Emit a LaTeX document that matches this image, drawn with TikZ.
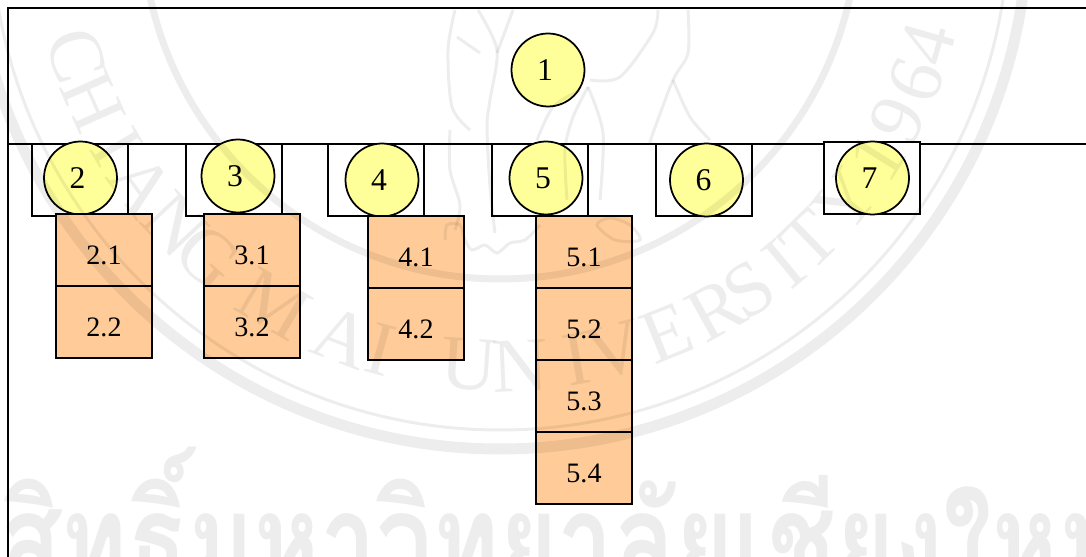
\documentclass[tikz,border=0pt]{standalone}
\usepackage{graphicx}
\usepackage{fontspec}
\setmainfont{Liberation Serif}
\newfontfamily\thaifont[Script=Thai]{Loma}
\definecolor{lightyellow}{RGB}{255, 255, 153}
\definecolor{lightorange}{RGB}{255, 204, 153}
\tikzset{
    bar/.style={black, line width=1pt},
    frontbox/.style={draw=black, line width=1pt, fill=white, minimum width=1.92cm, minimum height=1.44cm, inner sep=0pt},
    num/.style={circle, draw=black, line width=1pt, fill=lightyellow, minimum size=1.46cm, inner sep=0pt, font=\fontsize{18}{18}\selectfont, execute at end node={\hspace*{.12cm}}},
    sub/.style={draw=black, line width=1pt, fill=lightorange, minimum width=1.92cm, minimum height=1.44cm, inner sep=0pt, text height=.6cm, font=\fontsize{16}{16}\selectfont},
    ring/.style={draw=black, draw opacity=.07},
    sealtext/.style={text=black, text opacity=.07, inner sep=0pt, font=\fontsize{44}{44}\selectfont},
    thaitext/.style={text=black, text opacity=.07, inner sep=0pt, anchor=base west, font=\thaifont\bfseries\fontsize{76}{76}\selectfont}
}

\begin{document}
\begin{tikzpicture}[x=.02cm, y=-.02cm]
    \useasboundingbox (0,0) rectangle (1086,557);

    % Frame and header line
    \draw[bar] (8,557) -- (8,8) -- (1086,8);
    \draw[bar] (8,144) -- (1086,144);

    % Square behind each circle
    \node[frontbox] (box2) at (80,180) {};
    \node[frontbox] (box3) at (234,180) {};
    \node[frontbox] (box4) at (376,180) {};
    \node[frontbox] (box5) at (540,180) {};
    \node[frontbox] (box6) at (704,180) {};
    \node[frontbox] (box7) at (872,178) {};

    % Circles
    \node[num] (n1) at (548,70) {1};
    \node[num] (n2) at (80.5,178) {2};
    \node[num] (n3) at (238,176) {3};
    \node[num] (n4) at (382,180) {4};
    \node[num] (n5) at (546,178) {5};
    \node[num] (n6) at (706.5,180) {6};
    \node[num] (n7) at (872.5,178) {7};

    % Sub items
    \node[sub] (n21) at (104,250) {2.1};
    \node[sub] (n22) at (104,322) {2.2};
    \node[sub] (n31) at (252,250) {3.1};
    \node[sub] (n32) at (252,322) {3.2};
    \node[sub] (n41) at (416,252) {4.1};
    \node[sub] (n42) at (416,324) {4.2};
    \node[sub] (n51) at (584,252) {5.1};
    \node[sub] (n52) at (584,324) {5.2};
    \node[sub] (n53) at (584,396) {5.3};
    \node[sub] (n54) at (584,468) {5.4};

    % Seal rings
    \draw[ring, line width=11*.02cm] (500,-79) circle[radius=528];
    \draw[ring, line width=3*.02cm] (500,-79) circle[radius=509];
    \draw[ring, line width=7*.02cm] (500,-79) circle[radius=358];

    % Seal letters
    \begin{scope}[shift={(500,-79)}]
        \foreach \ch/\ang [count=\i] in {C/162.4, H/156, I/149.5, A/143.7, N/137, G/131, M/120.5, A/110.7, I/105.5, U/94, N/87.4, I/80, V/75, E/68, R/61, S/56, I/50.3, T/45.8, Y/39, 1/32, 9/26.6, 6/21, 4/16}
            \node[sealtext, rotate=90-\ang] (seal\i) at (\ang:445) {\ch};
    \end{scope}

    % Elephant in the seal
    \begin{scope}[ring, line width=3*.02cm]
        \draw plot[smooth] coordinates {(455,10) (448,50) (452,107) (470,130)};
        \draw plot[smooth] coordinates {(457,37) (480,53)};
        \draw plot[smooth] coordinates {(478,10) (497,50) (490,100) (487,127) (490,187) (495,233)};
        \draw plot[smooth] coordinates {(513,10) (497,53)};
        \draw plot[smooth] coordinates {(590,80) (620,77) (653,33) (658,10)};
        \draw plot[smooth] coordinates {(588,87) (573,117) (565,150) (567,200)};
        \draw plot[smooth] coordinates {(588,87) (603,133) (600,200)};
        \draw plot[smooth] coordinates {(537,140) (553,107) (580,90)};
        \draw plot[smooth] coordinates {(688,10) (688,53) (673,80) (653,133) (650,143)};
        \draw plot[smooth] coordinates {(673,80) (690,117) (710,140)};
        \draw plot[smooth] coordinates {(450,130) (450,170) (460,205) (455,230)};
        \draw plot[smooth] coordinates {(445,240) (447,225) (460,225) (465,240) (472,250) (485,245) (497,253) (510,243) (525,240) (540,225)};
        \draw plot[smooth cycle] coordinates {(597,225) (610,218) (630,225) (640,240) (615,240)};
    \end{scope}

    % Thai line at the bottom
    \node[thaitext] (thaimark) at (0,588) {\scalebox{.75}[1]{สิทธิ์มหาวิทยาลัยเชียงใหม่}};
\end{tikzpicture}
\end{document}
